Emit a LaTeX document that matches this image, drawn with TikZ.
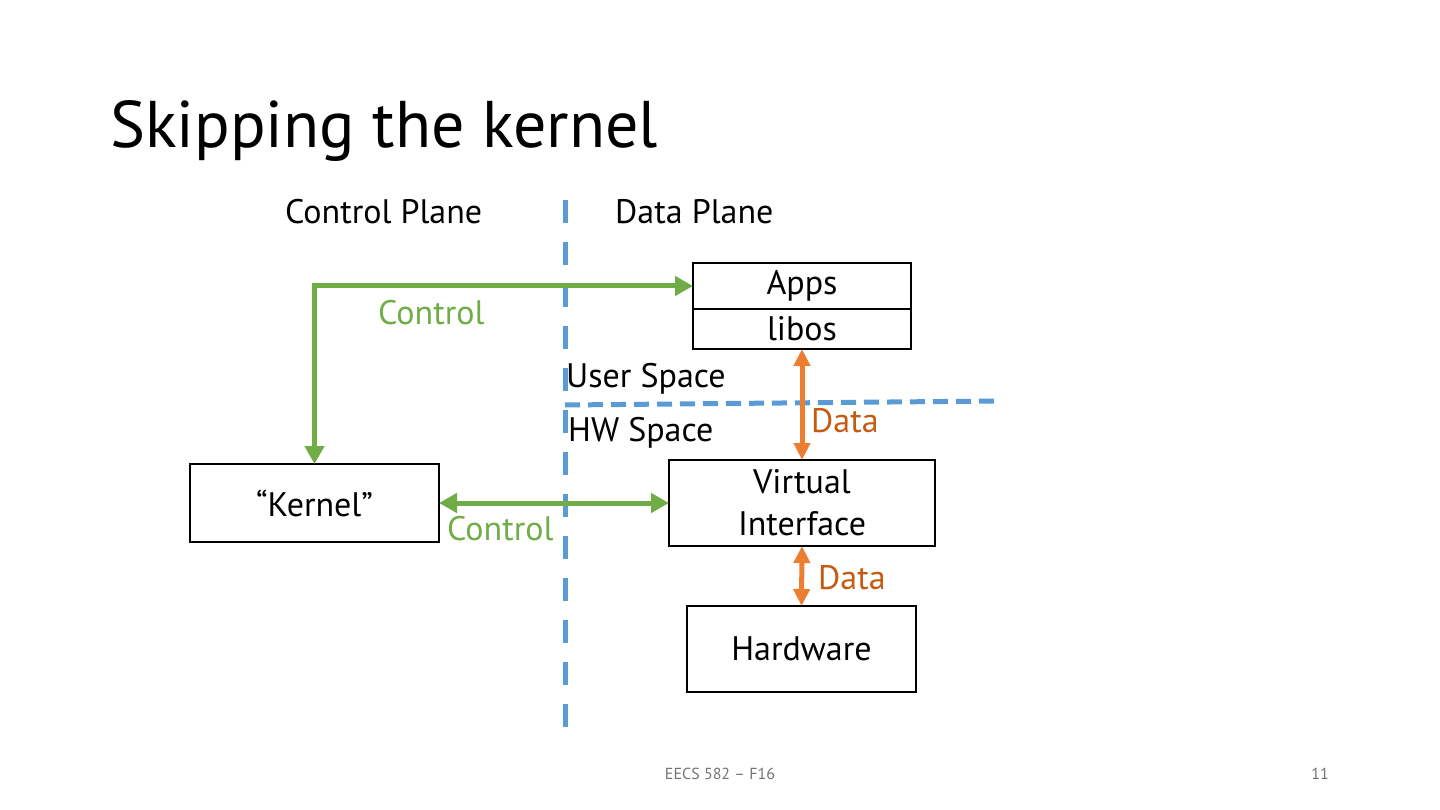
\documentclass[tikz,border=0pt]{standalone}
\usepackage{fontspec}
\setmainfont{PT Sans}
\usetikzlibrary{arrows.meta,positioning}
\definecolor{ctrlgreen}{RGB}{112,173,71}
\definecolor{dataorange}{RGB}{237,125,49}
\definecolor{datatext}{RGB}{197,90,17}
\definecolor{planeblue}{RGB}{91,155,213}

\begin{document}
\begin{tikzpicture}[x=1pt,y=-1pt,
  every node/.style={font=\fontsize{34}{38}\selectfont,inner sep=0pt},
  box/.style={draw,line width=2.5pt,outer sep=0pt,align=center},
  ctrl/.style={ctrlgreen,line width=5pt,{Triangle[length=18pt,width=19pt]}-{Triangle[length=18pt,width=19pt]}},
  data/.style={dataorange,line width=5pt,{Triangle[length=17pt,width=16pt]}-{Triangle[length=17pt,width=16pt]}},
  plane/.style={planeblue,line width=5pt}]
\useasboundingbox (0,0) rectangle (1440,810);

% title and footer
\node[anchor=base west,font=\fontsize{66}{72}\selectfont] (title) at (110,148) {Skipping the kernel};
\node[anchor=base,font=\fontsize{16}{18}\selectfont,text=black!55] (footer) at (720,779) {EECS 582 – F16};
\node[anchor=base,font=\fontsize{16}{18}\selectfont,text=black!55] (pagenum) at (1320,779) {11};

% plane separators
\draw[plane,dash pattern=on 23pt off 19pt] (565,200) coordinate (vtop) -- (565,727) coordinate (vbot);
\draw[plane,dash pattern=on 15pt off 8pt] (565,405) coordinate (hleft) -- (998,401) coordinate (hright);

\node[anchor=base west] (ctrlplane) at (285,224) {Control Plane};
\node[anchor=base west] (dataplane) at (615,224) {Data Plane};
\node[anchor=base west] (userspace) at (566,387) {User Space};
\node[anchor=base west] (hwspace) at (568,441) {HW Space};

% boxes
\node[box,minimum width=218pt,minimum height=46pt] (apps) at (802,286) {Apps};
\node[box,minimum width=218pt,minimum height=40pt,below=0pt of apps] (libos) {libos};
\node[box,minimum width=249pt,minimum height=78pt] (kernel) at (314.5,503) {“Kernel”};
\node[box,minimum width=266pt,minimum height=86pt,font=\fontsize{34}{42}\selectfont] (vi) at (802,503) {Virtual\\Interface};
\node[box,minimum width=229pt,minimum height=86pt] (hw) at (801.5,649) {Hardware};

% connectors
\draw[ctrl] (apps.west) -| (kernel.north);
\draw[ctrl] (kernel.east) -- (vi.west);
\draw[data] (libos.south) -- (vi.north);
\draw[data] (vi.south) -- (hw.north);

\node[anchor=base west,text=ctrlgreen] (ctrltop) at (378,324) {Control};
\node[anchor=base west,text=ctrlgreen] (ctrlmid) at (447,540) {Control};
\node[anchor=base west,text=datatext] (datatop) at (811,432) {Data};
\node[anchor=base west,text=datatext] (databot) at (818,589) {Data};
\end{tikzpicture}
\end{document}
